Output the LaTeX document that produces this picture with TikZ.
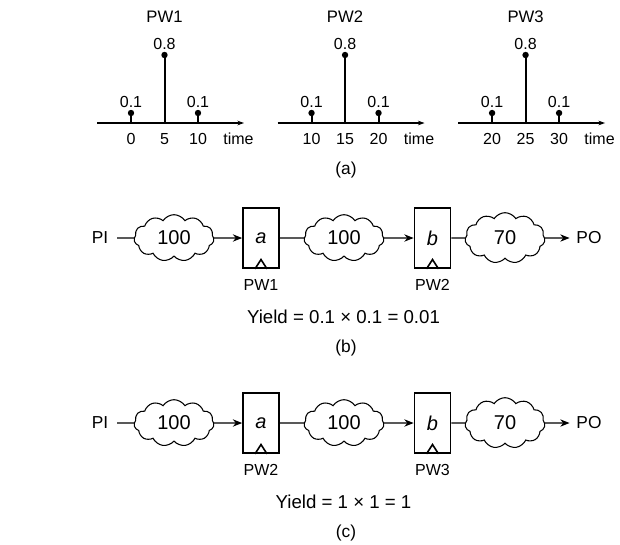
\documentclass[tikz,border=0pt]{standalone}
\usepackage{fontspec}
\setmainfont{Liberation Sans}
\usetikzlibrary{arrows.meta, positioning, shapes.symbols}

\begin{document}
\begin{tikzpicture}[x=0.75pt, y=-0.75pt,
    lbl/.style={inner sep=0pt, font=\fontsize{12}{14}\selectfont},
    head/.style={inner sep=0pt, font=\fontsize{12.5}{15}\selectfont},
    port/.style={inner sep=0pt, font=\fontsize{13}{15}\selectfont},
    stem/.style={line width=1.5pt},
    tip/.style={circle, fill=black, inner sep=0pt, minimum size=4.8pt},
    blob/.style={draw, cloud, cloud puffs=11, cloud puff arc=115, cloud ignores aspect,
        line width=0.8pt, minimum width=60pt, minimum height=35pt, inner sep=0pt,
        font=\fontsize{15}{18}\selectfont},
    latch/.style={draw, line width=1.3pt, minimum width=27pt, minimum height=45pt,
        inner sep=0pt, font=\fontsize{15}{18}\selectfont\itshape},
    clk/.style={line width=1.2pt},
    wire/.style={line width=0.8pt},
    feed/.style={wire, -{Stealth[length=7pt, width=5.5pt]}}]

\useasboundingbox (0,0) rectangle (620,544);

% (a) pulse-width distributions
\foreach \k/\pw/\ta/\tb/\tc in {0/PW1/0/5/10, 1/PW2/10/15/20, 2/PW3/20/25/30}{
  \begin{scope}[xshift=\k*135.4pt]
    \draw[wire, -{Stealth[length=5pt, width=3.5pt]}] (97,123) -- (244,123);
    \foreach \x/\h/\v/\t in {131/113/0.1/\ta, 164.5/55/0.8/\tb, 198/113/0.1/\tc}{
      \draw[stem] (\x,123) -- (\x,\h) node[tip] {};
      \node[lbl] at (\x,\h-11.5) {\v};
      \node[lbl] at (\x,139) {\t};
    }
    \node[lbl] (time\k) at (238.5,139) {time};
    \node[head] (pw\k) at (164.5,17) {\pw};
  \end{scope}
}
\node[port] (taga) at (346,170) {(a)};

% (b) and (c) latch chains
\foreach \y/\pa/\pb/\yield/\tag in {238/PW1/PW2/{0.1 × 0.1 = 0.01}/b, 423/PW2/PW3/{1 × 1 = 1}/c}{
  \node[port] (pi) at (100,\y) {PI};
  \node[blob] (c1) at (174,\y) {100};
  \node[latch] (la) at (261,\y) {a};
  \node[blob] (c2) at (344,\y) {100};
  \node[latch] (lb) at (432.5,\y) {b};
  \node[blob, minimum height=38pt] (c3) at (505,\y) {70};
  \node[port] (po) at (589,\y) {PO};

  \draw[wire, shorten <=6.5pt] (pi) -- (c1);
  \draw[feed] (c1) -- (la);
  \draw[wire] (la) -- (c2);
  \draw[feed] (c2) -- (lb);
  \draw[wire] (lb) -- (c3);
  \draw[feed, shorten >=5pt] (c3) -- (po);

  \draw[clk] ([xshift=-4.5pt]la.south) -- ([yshift=7pt]la.south) -- ([xshift=4.5pt]la.south);
  \draw[clk] ([xshift=-4.5pt]lb.south) -- ([yshift=7pt]lb.south) -- ([xshift=4.5pt]lb.south);

  \node[lbl] (pwa) at (261,\y+47) {\pa};
  \node[lbl] (pwb) at (432.5,\y+47) {\pb};
  \node[port, font=\fontsize{14}{17}\selectfont] (yl) at (343.5,\y+79) {Yield = \yield};
  \node[port] (tag) at (346,\y+110) {(\tag)};
}

\end{tikzpicture}
\end{document}
